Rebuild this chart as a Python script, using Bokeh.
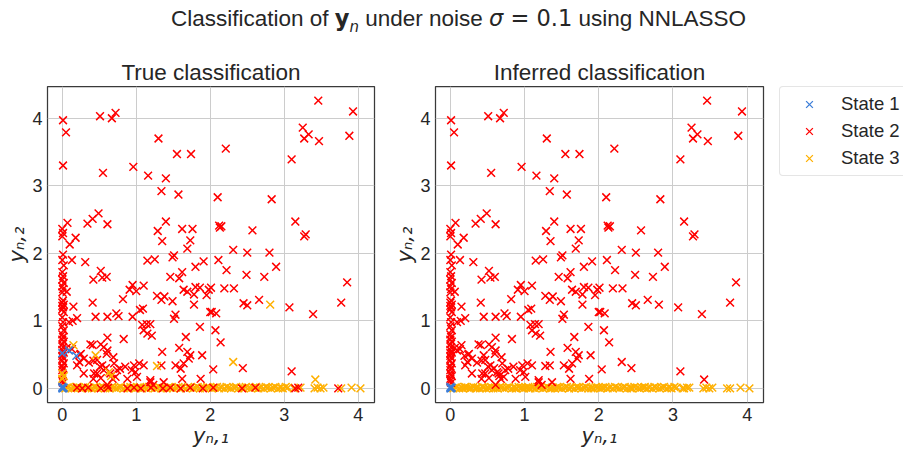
from bokeh.plotting import figure
from bokeh.models import Range1d, FixedTicker, Legend, LegendItem, Div
from bokeh.layouts import row, column
from bokeh.embed import file_html
from bokeh.resources import INLINE

# ---------------- data ----------------
# red in both panels
RED_BOTH = [
    (0.01, 3.97), (0.05, 3.79), (0.01, 3.30), (0.51, 4.03), (0.67, 4.00), (0.72, 4.08),
    (0.55, 3.19), (0.96, 3.28), (1.16, 3.15), (1.40, 3.11), (1.30, 3.70), (1.55, 3.47),
    (1.74, 3.47), (1.34, 2.92), (1.57, 2.87), (2.10, 2.83), (2.21, 3.55), (2.83, 2.80),
    (3.10, 3.39), (3.25, 3.86), (3.27, 3.70), (3.33, 3.76), (3.46, 4.26), (3.47, 3.66),
    (3.88, 3.74), (3.93, 4.10),
    (2.12, 2.41), (2.15, 2.40), (2.13, 2.38), (2.57, 2.34), (3.15, 2.47), (3.27, 2.25),
    (3.29, 2.28), (2.31, 2.05), (2.50, 2.01), (2.80, 2.01),
    (0.07, 2.45), (0.10, 2.13), (0.18, 2.23), (0.34, 2.44), (0.41, 2.51), (0.49, 2.59),
    (0.61, 2.43), (1.29, 2.33), (1.40, 2.47), (1.35, 2.18), (1.62, 2.36), (1.76, 2.36),
    (1.73, 2.19), (1.69, 2.07),
    (0.13, 1.90), (0.31, 1.87), (1.15, 1.89), (1.25, 1.91), (1.49, 1.94), (1.51, 1.97),
    (1.91, 1.88), (1.80, 1.80), (0.52, 1.74), (0.42, 1.61), (0.54, 1.64), (0.60, 1.65),
    (1.62, 1.72), (1.58, 1.63), (1.46, 1.65), (0.95, 1.53), (1.00, 1.44), (1.10, 1.52),
    (0.82, 1.32), (0.91, 1.46), (1.28, 1.37), (1.38, 1.36), (1.34, 1.31), (1.49, 1.29),
    (1.64, 1.46), (1.69, 1.43), (1.80, 1.50), (1.78, 1.39), (1.86, 1.49), (1.95, 1.38),
    (1.98, 1.46), (1.78, 1.24), (1.05, 1.16), (1.09, 1.18), (1.53, 1.09), (1.51, 1.03),
    (2.00, 1.13), (0.15, 1.21), (0.41, 1.27), (0.20, 1.04), (0.45, 1.06), (0.61, 1.06),
    (0.73, 1.11), (0.76, 1.07), (0.95, 1.06), (0.09, 0.98), (0.14, 1.00), (0.06, 1.43),
    (2.11, 1.90), (2.22, 1.75), (2.49, 1.68), (2.73, 1.65), (2.89, 1.80), (2.19, 1.48),
    (2.32, 1.48), (2.01, 1.49), (2.45, 1.26), (2.50, 1.23), (2.66, 1.31), (3.07, 1.20),
    (3.39, 1.10), (3.77, 1.27), (3.85, 1.57), (2.02, 1.13), (2.08, 1.11),
    (1.08, 0.94), (1.14, 0.95), (1.19, 0.95), (1.10, 0.86), (1.15, 0.81), (1.21, 0.78),
    (0.83, 0.73), (0.61, 0.75), (1.86, 0.91), (1.67, 0.76), (0.41, 0.64), (0.52, 0.65),
    (0.56, 0.61), (0.61, 0.56), (0.60, 0.51), (0.25, 0.51), (0.29, 0.44), (0.36, 0.38),
    (0.23, 0.39), (0.47, 0.42), (0.54, 0.34), (0.59, 0.30), (0.70, 0.37), (0.74, 0.27),
    (0.43, 0.22), (0.52, 0.15), (0.68, 0.14), (0.88, 0.14), (0.97, 0.34), (1.04, 0.37),
    (1.10, 0.34), (0.99, 0.24), (1.01, 0.17), (1.35, 0.54), (1.58, 0.60), (1.69, 0.54),
    (1.71, 0.44), (1.64, 0.37), (1.89, 0.49), (1.53, 0.34), (1.60, 0.29), (1.62, 0.14),
    (1.87, 0.14), (1.19, 0.09), (1.37, 0.09), (2.07, 0.86), (2.14, 0.68), (2.04, 0.28),
    (2.44, 0.30), (3.10, 0.25), (1.73, 0.49), (0.24, 0.50), (0.42, 0.41), (0.51, 0.32),
    (0.56, 0.27), (0.47, 0.22), (0.69, 0.46), (0.65, 0.22), (0.72, 0.17), (0.78, 0.29),
    (0.85, 0.32), (0.94, 0.27), (0.20, 0.34), (0.29, 0.22), (0.42, 0.14), (1.34, 0.34),
    (1.19, 0.12), (0.61, 0.05), (1.23, 0.05), (0.06, 0.60), (0.13, 0.58), (0.38, 0.65),
    (0.00, 2.36), (0.01, 2.30), (0.00, 2.25), (0.01, 1.98), (0.00, 1.90), (0.02, 1.82),
    (0.00, 1.72), (0.01, 1.66), (0.00, 1.61), (0.02, 1.56), (0.00, 1.51), (0.01, 1.47),
    (0.00, 1.42), (0.01, 1.30), (0.00, 1.27), (0.02, 1.24), (0.00, 1.22), (0.01, 1.20),
    (0.00, 1.17), (0.02, 1.13), (0.00, 1.05), (0.01, 0.98), (0.00, 0.92), (0.02, 0.86),
    (0.00, 0.80), (0.01, 0.76), (0.00, 0.72), (0.02, 0.69), (0.00, 0.65), (0.01, 0.61),
    (0.00, 0.57), (0.02, 0.53), (0.00, 0.48), (0.01, 0.45), (0.00, 0.41), (0.02, 0.37),
    (0.00, 0.33), (0.01, 0.30), (0.00, 0.27), (0.01, 0.20), (0.00, 0.11), (0.01, 0.08),
]

# red in the true panel, yellow in the inferred panel (on the axis)
RED_AXIS = [
    (0.20, 0.01), (0.27, 0.00), (0.35, 0.01), (0.52, 0.00), (0.62, 0.01), (0.88, 0.00),
    (0.97, 0.01), (1.06, 0.00), (1.20, 0.01), (1.36, 0.00), (1.46, 0.01), (1.60, 0.00),
    (1.73, 0.01), (1.90, 0.00), (2.04, 0.01), (2.43, 0.00), (2.61, 0.01), (3.15, 0.00),
    (3.19, 0.01), (3.73, 0.00),
]

# yellow in both panels (on the axis)
YELLOW_AXIS_X = [
    0.04, 0.07, 0.09, 0.12, 0.15, 0.17, 0.20, 0.23, 0.26, 0.28, 0.31, 0.34, 0.37, 0.40,
    0.43, 0.45, 0.48, 0.51, 0.55, 0.58, 0.60, 0.64, 0.67, 0.70, 0.73, 0.76, 0.79, 0.83,
    0.86, 0.89, 0.92, 0.95, 0.99, 1.02, 1.05, 1.08, 1.11, 1.14, 1.17, 1.21, 1.25, 1.28,
    1.31, 1.34, 1.38, 1.41, 1.44, 1.47, 1.50, 1.54, 1.57, 1.60, 1.63, 1.67, 1.70, 1.73,
    1.77, 1.80, 1.83, 1.86, 1.90, 1.93, 1.96, 1.99, 2.02, 2.06, 2.09, 2.12, 2.15, 2.19,
    2.22, 2.25, 2.28, 2.32, 2.35, 2.38, 2.42, 2.45, 2.48, 2.52, 2.55, 2.58, 2.62, 2.65,
    2.68, 2.72, 2.75, 2.78, 2.82, 2.85, 2.88, 2.92, 2.95, 2.98, 3.02, 3.05, 3.13, 3.22,
    3.41, 3.45, 3.49, 3.53, 3.77, 3.91, 4.03,
]
YELLOW_AXIS_Y = [
    0.00, 0.01, 0.02, 0.00, 0.01, 0.00, 0.02, 0.01, 0.00, 0.01, 0.02, 0.00, 0.01, 0.00,
    0.02, 0.01, 0.00, 0.01, 0.02, 0.00, 0.01, 0.00, 0.02, 0.01, 0.00, 0.01, 0.02, 0.00,
    0.01, 0.00, 0.02, 0.01, 0.00, 0.01, 0.02, 0.00, 0.01, 0.00, 0.02, 0.01, 0.00, 0.01,
    0.02, 0.00, 0.01, 0.00, 0.02, 0.01, 0.00, 0.01, 0.02, 0.00, 0.01, 0.00, 0.02, 0.01,
    0.00, 0.01, 0.02, 0.00, 0.01, 0.00, 0.02, 0.01, 0.00, 0.01, 0.02, 0.00, 0.01, 0.00,
    0.02, 0.01, 0.00, 0.01, 0.02, 0.00, 0.01, 0.00, 0.02, 0.01, 0.00, 0.01, 0.02, 0.00,
    0.01, 0.00, 0.02, 0.01, 0.00, 0.01, 0.02, 0.00, 0.01, 0.00, 0.02, 0.01, 0.00, 0.01,
    0.00, 0.01, 0.00, 0.01, 0.00, 0.01, 0.00,
]

# yellow in the true panel, red in the inferred panel
YELLOW_OFF = [
    (0.15, 0.64), (0.45, 0.49), (0.63, 0.24), (0.66, 0.18), (1.28, 0.33), (2.31, 0.39),
    (2.81, 1.24), (3.42, 0.13), (0.00, 0.22), (0.00, 0.14), (0.02, 0.18),
]

# blue in the true panel, red in the inferred panel
BLUE_OFF = [(0.00, 0.52), (0.09, 0.56), (0.19, 0.48)]

# blue in both panels (origin)
BLUE_BOTH = [(0.00, 0.00), (0.01, 0.00), (0.00, 0.02), (0.02, 0.01)]

STATES = ["State 1", "State 2", "State 3"]
TICKS = [0, 1, 2, 3, 4]
TITLE_TRUE = "True classification"
TITLE_INF = "Inferred classification"

# ---------------- styling ----------------
RED = "#FF0000"
YELLOW = "#FFB000"
BLUE = "#3B7DD8"
TXT = "#262626"
FONT = "Liberation Sans"
MSIZE = 11
MLW = 1.5


def xs(pts):
    return [p[0] for p in pts]


def ys(pts):
    return [p[1] for p in pts]


def make_panel(title, width, left_b, right_b, layers):
    p = figure(width=width, height=410, output_backend="svg", toolbar_location=None,
               x_range=Range1d(-0.2, 4.22), y_range=Range1d(-0.21, 4.47),
               min_border_left=left_b, min_border_right=right_b,
               min_border_top=46, min_border_bottom=48)
    p.title.text = title
    p.title.align = "center"
    p.title.text_font = FONT
    p.title.text_font_size = "22.5px"
    p.title.text_font_style = "normal"
    p.title.text_color = TXT
    p.title.standoff = 4
    p.outline_line_color = "#3a3a3a"
    p.outline_line_width = 1.25
    p.background_fill_color = "white"
    p.border_fill_color = "white"
    for ax in (p.xaxis[0], p.yaxis[0]):
        ax.ticker = FixedTicker(ticks=TICKS)
        ax.axis_line_color = None
        ax.major_tick_line_color = None
        ax.minor_tick_line_color = None
        ax.major_tick_out = 0
        ax.major_tick_in = 0
        ax.major_label_text_font = FONT
        ax.major_label_text_font_size = "18px"
        ax.major_label_text_color = TXT
        ax.axis_label_text_font = "DejaVu Sans"
        ax.axis_label_text_font_style = "italic"
        ax.axis_label_text_font_size = "21px"
        ax.axis_label_text_color = TXT
    p.xaxis[0].axis_label = "yₙ,₁"
    p.yaxis[0].axis_label = "yₙ,₂"
    p.xaxis[0].major_label_standoff = 5
    p.yaxis[0].major_label_standoff = 5
    p.xaxis[0].axis_label_standoff = 0
    p.yaxis[0].axis_label_standoff = 0
    p.grid.grid_line_color = "#cccccc"
    p.grid.grid_line_width = 1
    for color, px, py in layers:
        p.scatter(px, py, marker="x", size=MSIZE, line_color=color, line_width=MLW)
    return p


true_layers = [
    (YELLOW, YELLOW_AXIS_X, YELLOW_AXIS_Y),
    (RED, xs(RED_BOTH), ys(RED_BOTH)),
    (RED, xs(RED_AXIS), ys(RED_AXIS)),
    (YELLOW, xs(YELLOW_OFF), ys(YELLOW_OFF)),
    (BLUE, xs(BLUE_OFF), ys(BLUE_OFF)),
    (BLUE, xs(BLUE_BOTH), ys(BLUE_BOTH)),
]
inf_layers = [
    (YELLOW, YELLOW_AXIS_X, YELLOW_AXIS_Y),
    (YELLOW, xs(RED_AXIS), ys(RED_AXIS)),
    (RED, xs(RED_BOTH), ys(RED_BOTH)),
    (RED, xs(YELLOW_OFF), ys(YELLOW_OFF)),
    (RED, xs(BLUE_OFF), ys(BLUE_OFF)),
    (BLUE, xs(BLUE_BOTH), ys(BLUE_BOTH)),
]

p1 = make_panel(TITLE_TRUE, 390, 47, 16, true_layers)
p2 = make_panel(TITLE_INF, 389, 44, 16, inf_layers)

# legend-only figure: one renderer per state (data lies outside its view)
p3 = figure(width=124, height=410, output_backend="svg", toolbar_location=None,
            x_axis_type=None, y_axis_type=None,
            x_range=Range1d(10, 11), y_range=Range1d(10, 11),
            min_border_left=0, min_border_right=0, min_border_top=46,
            min_border_bottom=48)
p3.outline_line_color = None
p3.grid.visible = False
p3.background_fill_color = "white"
p3.border_fill_color = "white"
leg_sets = [(BLUE, BLUE_BOTH), (RED, RED_BOTH), (YELLOW, YELLOW_OFF)]
leg_rends = []
for color, pts in leg_sets:
    leg_rends.append(p3.scatter(xs(pts), ys(pts), marker="x", size=MSIZE,
                                line_color=color, line_width=1.3))
items = [LegendItem(label=STATES[i], renderers=[leg_rends[i]]) for i in range(3)]
legend = Legend(items=items, location="top_left", orientation="vertical",
                padding=5, spacing=3, glyph_width=48, glyph_height=24,
                label_height=24, label_standoff=8, margin=0,
                label_text_font=FONT, label_text_font_size="18.5px",
                label_text_color=TXT, border_line_color="#cccccc",
                border_line_width=1, background_fill_color="white",
                background_fill_alpha=1.0)
if "border_radius" in Legend.properties():
    legend.border_radius = 4
p3.add_layout(legend, "center")

title_html = (
    '<div style="font-family:\'Liberation Sans\',Arial,sans-serif;font-size:22.5px;'
    'color:#262626;text-align:center;width:903px;padding-left:14px;'
    'box-sizing:border-box;line-height:26px;padding-top:5px;white-space:nowrap;">'
    'Classification of <b style="font-family:\'DejaVu Sans\';">y</b>'
    '<sub style="font-family:\'DejaVu Sans\';font-style:italic;font-size:15px;">n</sub>'
    ' under noise <i style="font-family:\'DejaVu Sans\';">σ</i>'
    '<span style="font-family:\'DejaVu Sans\';"> = 0.1</span> using NNLASSO</div>'
)
header = Div(text=title_html, width=903, height=40, margin=(0, 0, 0, 0))

layout = column(header, row(p1, p2, p3, spacing=0), spacing=0)

html = file_html(layout, INLINE, title="Classification")
with open("out.html", "w") as f:
    f.write(html)
